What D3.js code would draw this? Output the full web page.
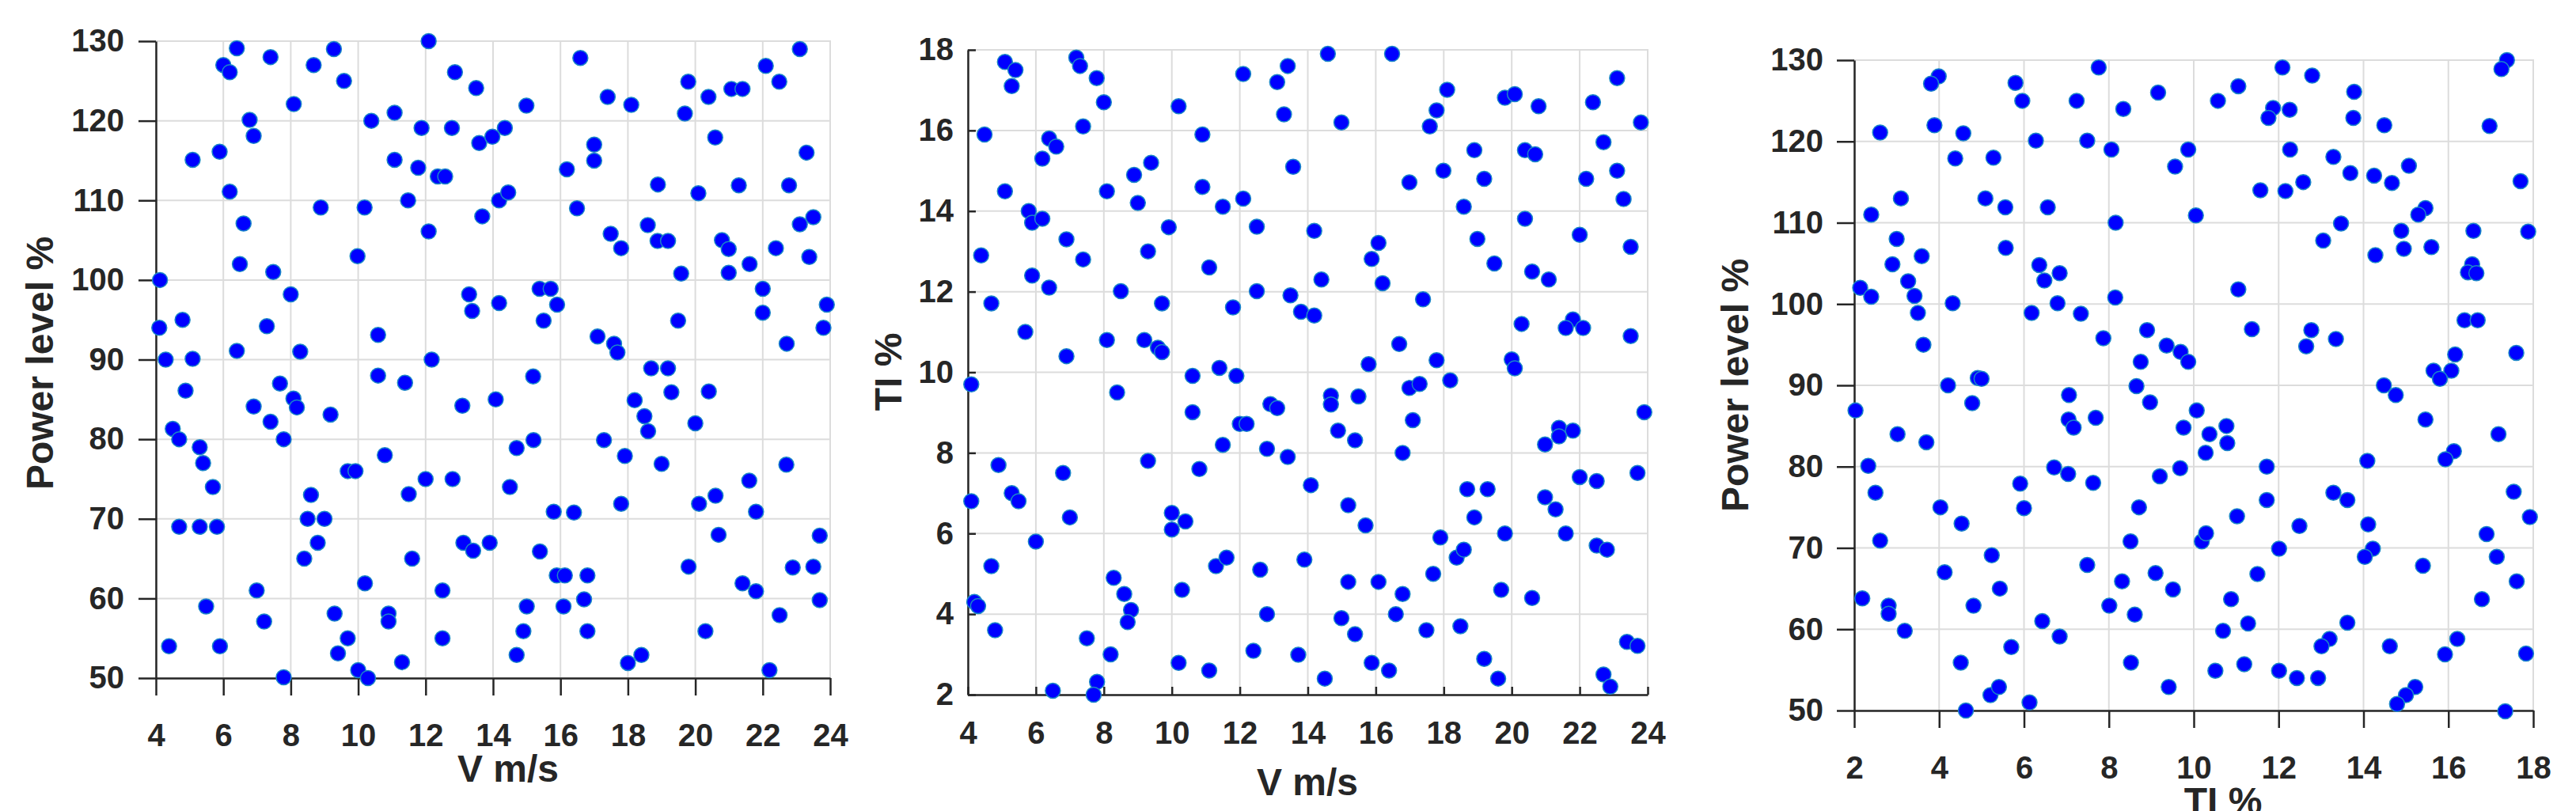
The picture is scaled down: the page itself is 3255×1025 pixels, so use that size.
<!DOCTYPE html>
<meta charset="utf-8">
<style>
body { margin: 0; background: #fff; }
svg { display: block; font-family: "Liberation Sans", Arial, Helvetica, sans-serif; }
.grid line { stroke: #dcdcdc; stroke-width: 2px; }
.frame { fill: none; stroke: #dcdcdc; stroke-width: 2px; }
.axis path, .axis line { stroke: #262626; stroke-width: 2.5px; }
.axis text { fill: #262626; font-size: 40px; font-weight: bold; font-family: "Liberation Sans", Arial, sans-serif; }
.label { fill: #262626; font-size: 48px; font-weight: bold; }
.dot { fill: #0000ff; stroke: #1a86c8; stroke-width: 1.5px; }
</style>
<svg width="3255" height="1025"></svg>
<script src="https://cdnjs.cloudflare.com/ajax/libs/d3/7.8.5/d3.min.js"></script>
<script>

// wind speed (m/s) vs power level (%)
var speedPower = [
  [6.0,127.0],[6.19,126.1],[6.4,129.1],[7.4,128.0],[8.68,127.0],[9.28,129.0],[9.58,125.0],[8.09,122.1],
  [6.78,120.1],[6.9,118.1],[5.09,115.1],[5.89,116.1],[6.19,111.1],[6.6,107.1],[6.49,102.0],[7.48,101.0],
  [12.09,130.0],[12.87,126.1],[13.5,124.1],[10.39,120.0],[11.08,121.0],[11.88,119.1],[12.78,119.1],[13.59,117.2],
  [13.98,118.0],[14.35,119.1],[11.08,115.1],[11.78,114.1],[12.36,113.0],[12.58,113.0],[11.48,110.0],[12.09,106.1],
  [13.68,108.0],[14.18,110.0],[14.45,111.0],[8.89,109.1],[10.19,109.1],[9.98,103.0],[4.12,100.0],[4.1,94.0],
  [4.79,95.0],[4.29,90.0],[5.09,90.1],[4.88,86.1],[6.4,91.1],[7.29,94.2],[8.0,98.2],[8.28,91.0],
  [7.68,87.0],[8.08,85.1],[8.18,84.0],[6.9,84.1],[7.4,82.2],[9.18,83.1],[10.59,93.1],[10.59,88.0],
  [11.39,87.1],[12.18,90.0],[13.29,98.2],[13.38,96.1],[14.18,97.1],[13.09,84.2],[14.08,85.0],[4.5,81.3],
  [7.79,80.0],[4.69,80.0],[5.3,79.0],[5.4,77.0],[5.69,74.0],[4.69,69.0],[5.3,69.0],[5.81,69.0],
  [8.6,73.0],[8.5,70.0],[9.0,70.0],[8.8,67.0],[8.4,65.0],[9.69,76.0],[9.92,76.0],[10.79,78.0],
  [11.5,73.1],[12.0,75.0],[12.8,75.0],[11.6,65.0],[13.12,67.0],[13.41,66.0],[13.9,67.0],[14.5,74.0],
  [6.99,61.0],[5.49,59.0],[7.21,57.1],[4.39,54.0],[5.9,54.0],[7.79,50.1],[9.3,58.1],[9.4,53.1],
  [9.69,55.0],[10.0,51.0],[10.29,50.0],[10.2,61.9],[10.9,58.1],[10.9,57.1],[11.3,52.0],[12.5,61.0],
  [12.5,55.0],
  [16.59,127.9],[14.99,121.9],[17.4,123.0],[18.1,122.0],[19.79,124.9],[19.69,120.9],[20.39,123.0],[21.07,124.0],
  [21.4,124.0],[22.09,126.9],[22.49,124.9],[23.1,129.0],[17.0,117.0],[17.0,115.0],[16.19,113.9],[20.59,117.9],
  [23.3,116.0],[18.89,112.0],[20.09,110.9],[21.29,111.9],[22.78,111.9],[16.49,109.0],[17.49,105.8],[17.8,104.0],
  [18.59,106.9],[18.88,104.9],[19.19,104.9],[20.79,105.0],[20.99,103.9],[21.61,102.0],[22.39,104.0],[23.1,107.0],
  [23.5,107.9],[23.38,102.9],[19.58,100.8],[20.99,100.9],[22.0,98.9],[22.0,95.9],[23.9,96.9],[23.8,94.0],
  [22.71,92.0],[15.38,98.9],[15.71,98.9],[15.9,96.9],[15.5,94.9],[19.49,94.9],[17.1,92.9],[17.59,92.0],
  [17.69,90.9],[15.19,87.9],[18.69,88.9],[19.19,88.9],[19.29,85.9],[20.4,86.0],[18.2,84.9],[18.49,82.9],
  [18.6,81.0],[20.0,82.0],
  [15.2,79.9],[14.7,78.9],[17.29,79.9],[17.91,77.9],[19.0,76.9],[22.7,76.8],[21.6,74.8],[20.6,72.9],
  [20.11,71.9],[21.8,70.9],[17.8,71.9],[15.8,70.9],[16.4,70.8],[15.39,65.9],[20.69,68.0],[23.69,67.9],
  [19.8,64.0],[22.89,63.9],[23.5,64.0],[15.89,62.9],[16.13,62.9],[16.8,62.9],[21.4,61.9],[21.8,60.9],
  [16.7,59.9],[23.69,59.8],[15.0,59.0],[16.09,59.0],[22.5,57.9],[14.9,55.9],[16.8,55.9],[20.3,55.9],
  [14.7,52.9],[18.0,51.9],[18.4,52.9],[22.2,51.0]
];

// wind speed (m/s) vs turbulence intensity (%)
var speedTI = [
  [5.09,17.7],[5.4,17.5],[5.29,17.1],[7.19,17.81],[7.3,17.6],[7.79,17.3],[8.0,16.7],[7.39,16.1],
  [4.49,15.9],[6.39,15.8],[6.6,15.6],[6.19,15.3],[5.09,14.49],[5.79,14.0],[5.89,13.71],[6.19,13.81],
  [6.9,13.3],[7.39,12.8],[4.39,12.9],[5.89,12.4],[6.39,12.1],[4.69,11.71],[5.69,11.0],[6.9,10.4],
  [4.1,9.7],[8.09,14.49],[8.89,14.9],[9.39,15.2],[9.0,14.2],[9.91,13.6],[9.3,13.0],[8.5,12.01],
  [9.71,11.71],[8.09,10.8],[9.19,10.8],[9.59,10.61],[9.71,10.5],[8.39,9.5],[10.2,16.6],[10.9,15.9],
  [10.9,14.6],[11.5,14.11],[12.1,14.31],[12.5,13.61],[11.1,12.6],[12.5,12.01],[11.8,11.61],[10.61,9.91],
  [11.4,10.11],[11.9,9.91],[10.61,9.01],[12.0,8.72],[12.2,8.72],[12.9,9.21],[13.1,9.11],[12.1,17.4],
  [13.1,17.2],[13.41,17.6],[13.3,16.4],[13.57,15.1],[13.49,11.91],[13.8,11.5],
  [14.59,17.9],[16.48,17.9],[14.99,16.2],[18.1,17.01],[17.79,16.5],[17.59,16.1],[19.8,16.81],[20.09,16.9],
  [20.79,16.6],[22.39,16.7],[23.1,17.3],[23.8,16.2],[18.9,15.51],[20.39,15.51],[20.69,15.41],[22.7,15.71],
  [17.99,15.0],[16.99,14.71],[19.19,14.8],[22.19,14.8],[23.1,15.0],[23.29,14.3],[18.59,14.11],[20.39,13.81],
  [22.0,13.41],[14.19,13.51],[16.08,13.21],[15.88,12.81],[18.99,13.31],[19.49,12.7],[20.6,12.5],[21.09,12.3],
  [23.5,13.11],[14.4,12.3],[16.2,12.21],[14.19,11.41],[17.39,11.81],[20.29,11.2],[21.8,11.31],[21.59,11.1],
  [22.1,11.1],[23.5,10.9],[16.69,10.7],[15.79,10.2],[17.79,10.3],[20.0,10.32],[20.09,10.1],[16.99,9.61],
  [17.29,9.71],[18.19,9.8],[14.68,9.42],[14.68,9.2],[15.49,9.4],[17.09,8.81],[14.89,8.55],[23.9,9.01],
  [21.39,8.62],[21.8,8.55],
  [11.5,8.2],[12.8,8.1],[13.41,7.9],[9.3,7.8],[10.81,7.6],[4.9,7.7],[6.8,7.5],[4.1,6.8],
  [5.29,7.0],[5.49,6.8],[7.0,6.4],[6.0,5.8],[10.0,6.51],[10.4,6.3],[10.0,6.1],[4.69,5.19],
  [11.3,5.19],[11.61,5.4],[12.6,5.1],[13.9,5.35],[8.29,4.9],[8.6,4.5],[8.8,4.1],[8.7,3.8],
  [10.3,4.6],[4.19,4.3],[4.3,4.2],[4.8,3.6],[12.8,4.0],[7.5,3.4],[8.2,3.0],[10.2,2.79],
  [11.1,2.6],[12.4,3.09],[13.72,2.99],[6.5,2.1],[7.8,2.32],[7.7,2.0],
  [15.39,8.31],[16.79,8.0],[14.09,7.2],[15.19,6.7],[15.7,6.2],[17.9,5.9],[18.69,7.1],[19.29,7.1],
  [18.9,6.4],[19.8,6.0],[18.38,5.4],[18.59,5.6],[20.98,6.9],[21.29,6.6],[21.59,6.0],[20.98,8.21],
  [21.39,8.41],[22.0,7.4],[22.5,7.3],[23.7,7.5],[22.5,5.7],[22.8,5.6],[17.69,5.0],[15.19,4.8],
  [16.08,4.8],[16.79,4.5],[19.69,4.6],[20.6,4.4],[14.99,3.9],[16.59,4.0],[15.39,3.5],[17.49,3.6],
  [18.49,3.7],[15.88,2.79],[16.39,2.6],[14.5,2.4],[19.19,2.89],[19.6,2.4],[23.39,3.31],[23.7,3.21],
  [22.7,2.5],[22.9,2.2]
];

// turbulence intensity (%) vs power level (%)
var tiPower = [
  [3.99,128.0],[3.81,127.1],[3.89,122.0],[2.61,121.1],[4.57,121.0],[4.38,117.9],[5.28,118.0],[5.8,127.2],
  [5.96,125.0],[6.28,120.1],[7.76,129.1],[7.24,125.0],[8.34,124.0],[7.49,120.1],[8.06,119.0],[3.1,113.0],
  [2.4,111.0],[3.0,108.0],[5.09,113.0],[5.56,111.9],[6.56,111.9],[5.57,106.9],[8.16,110.0],[3.59,105.9],
  [2.9,104.9],[3.27,102.8],[2.14,102.0],[2.4,100.9],[3.42,101.0],[3.5,98.9],[4.32,100.1],[3.63,95.0],
  [6.36,104.8],[6.48,102.9],[6.84,103.8],[6.79,100.1],[6.18,98.9],[7.34,98.8],[7.87,95.8],[8.15,100.8],
  [8.9,96.8],[8.75,92.9],[8.65,89.9],[4.21,90.0],[4.91,90.9],[5.0,90.8],[4.78,87.8],[2.03,86.9],
  [7.06,88.8],[7.05,85.8],[7.17,84.8],[7.69,86.0],[3.02,84.0],[3.7,83.0],
  [2.33,80.1],[2.5,76.8],[2.61,70.9],[4.03,75.0],[4.53,73.0],[5.91,77.9],[6.0,74.9],[6.71,79.9],
  [7.04,79.1],[7.63,78.0],[8.71,75.0],[8.51,70.8],[5.24,69.1],[4.13,67.0],[5.43,65.0],[4.81,62.9],
  [7.49,67.9],[8.31,65.9],[8.01,62.9],[8.61,61.8],[2.19,63.8],[2.81,62.9],[2.81,61.9],[3.19,59.8],
  [6.43,61.0],[6.84,59.1],[5.7,57.8],[4.51,55.9],[8.52,55.9],[5.21,51.9],[5.41,52.9],[6.13,51.0],
  [4.63,50.0],
  [9.16,126.0],[10.57,125.0],[11.05,126.8],[12.09,129.1],[12.79,128.1],[13.78,126.1],[11.87,124.1],[11.76,122.9],
  [12.26,123.9],[13.76,122.9],[14.49,122.0],[17.38,130.0],[17.25,128.9],[16.97,121.9],[9.87,119.0],[9.56,116.9],
  [12.27,119.0],[13.29,118.1],[13.69,116.1],[14.25,115.8],[14.67,114.9],[15.07,117.0],[11.57,114.0],[12.16,113.9],
  [12.58,115.0],[17.7,115.1],[10.05,110.9],[15.46,111.8],[15.29,111.0],[13.47,109.9],[13.05,107.8],[14.89,109.0],
  [16.59,109.0],[17.88,108.9],[14.28,106.0],[14.95,106.8],[15.6,107.0],[16.56,104.9],[16.46,103.9],[16.66,103.8],
  [11.05,101.8],[9.36,94.9],[9.69,94.1],[9.87,92.9],[11.37,96.9],[12.77,96.8],[12.65,94.8],[13.35,95.7],
  [16.38,98.0],[16.69,98.0],[17.6,94.0],[16.16,93.8],[16.07,91.8],[15.65,91.8],[15.8,90.8],[14.48,90.0],
  [14.76,88.8],[15.46,85.8],[17.18,84.0],[8.97,87.9],[10.07,86.9],[9.76,84.8],[10.37,84.0],[10.77,85.0],
  [10.79,82.9],
  [10.28,81.7],[16.13,81.9],[15.93,80.9],[14.09,80.7],[11.72,80.0],[9.68,79.8],[9.2,78.8],[13.29,76.8],
  [13.62,75.9],[17.54,76.9],[11.02,73.9],[11.72,75.9],[12.49,72.7],[14.11,72.9],[17.92,73.8],[10.19,70.8],
  [10.29,71.8],[12.01,69.9],[14.22,69.9],[14.03,68.9],[16.9,71.7],[17.14,68.9],[15.4,67.8],[9.1,66.9],
  [9.51,64.9],[11.5,66.8],[10.88,63.7],[17.61,65.9],[16.79,63.7],[11.28,60.7],[10.69,59.8],[13.62,60.8],
  [13.2,58.8],[13.01,57.9],[14.62,57.9],[16.21,58.8],[15.92,56.9],[17.83,57.0],[10.51,54.9],[11.19,55.7],
  [12.01,54.9],[12.43,54.0],[12.93,54.0],[9.41,52.9],[15.22,52.9],[15.0,51.9],[14.79,50.8],[17.34,49.9]
];

var speedTicks = [4, 6, 8, 10, 12, 14, 16, 18, 20, 22, 24];
var powerTicks = [50, 60, 70, 80, 90, 100, 110, 120, 130];
var tiTicks = [2, 4, 6, 8, 10, 12, 14, 16, 18];

var svg = d3.select("svg");

var panels = [
  {points: speedPower, xDomain: [4, 24], yDomain: [50, 130], xTicks: speedTicks, yTicks: powerTicks,
   xLabel: "V m/s", yLabel: "Power level %",
   left: 197, right: 1049, top: 52, bottom: 857, tick: 22, xPad: 36, yPad: 18,
   xLabelX: 642, xLabelY: 988, yLabelX: 50, yLabelY: 459},
  {points: speedTI, xDomain: [4, 24], yDomain: [2, 18], xTicks: speedTicks, yTicks: tiTicks,
   xLabel: "V m/s", yLabel: "TI %",
   left: 1223, right: 2082, top: 63, bottom: 878, tick: -10, xPad: 34, yPad: 18,
   xLabelX: 1652, xLabelY: 1005, yLabelX: 1122, yLabelY: 470},
  {points: tiPower, xDomain: [2, 18], yDomain: [50, 130], xTicks: tiTicks, yTicks: powerTicks,
   xLabel: "TI %", yLabel: "Power level %",
   left: 2343, right: 3201, top: 76, bottom: 898, tick: 22, xPad: 36, yPad: 17,
   xLabelX: 2809, xLabelY: 1029, yLabelX: 2192, yLabelY: 487}
];

panels.forEach(function(p) {
  var x = d3.scaleLinear().domain(p.xDomain).range([p.left, p.right]),
      y = d3.scaleLinear().domain(p.yDomain).range([p.bottom, p.top]);

  var g = svg.append("g");

  g.append("g").attr("class", "grid")
    .selectAll("line.v").data(p.xTicks).enter().append("line")
      .attr("x1", function(d) { return x(d); }).attr("x2", function(d) { return x(d); })
      .attr("y1", p.top).attr("y2", p.bottom);
  g.append("g").attr("class", "grid")
    .selectAll("line.h").data(p.yTicks).enter().append("line")
      .attr("x1", p.left).attr("x2", p.right)
      .attr("y1", function(d) { return y(d); }).attr("y2", function(d) { return y(d); });

  g.append("rect").attr("class", "frame")
      .attr("x", p.left).attr("y", p.top)
      .attr("width", p.right - p.left).attr("height", p.bottom - p.top);

  g.append("g")
      .attr("class", "axis")
      .attr("transform", "translate(0," + p.bottom + ")")
      .call(d3.axisBottom(x).tickValues(p.xTicks).tickSizeInner(p.tick).tickSizeOuter(0).tickPadding(p.xPad));
  g.append("g")
      .attr("class", "axis")
      .attr("transform", "translate(" + p.left + ",0)")
      .call(d3.axisLeft(y).tickValues(p.yTicks).tickSizeInner(p.tick).tickSizeOuter(0).tickPadding(p.yPad));

  g.selectAll(".dot")
    .data(p.points)
    .enter().append("circle")
      .attr("class", "dot")
      .attr("r", 9.5)
      .attr("cx", function(d) { return x(d[0]); })
      .attr("cy", function(d) { return y(d[1]); });

  g.append("text")
      .attr("class", "label")
      .attr("x", p.xLabelX)
      .attr("y", p.xLabelY)
      .attr("text-anchor", "middle")
      .text(p.xLabel);
  g.append("text")
      .attr("class", "label")
      .attr("transform", "translate(" + p.yLabelX + "," + p.yLabelY + ") rotate(-90)")
      .attr("dy", "0.35em")
      .attr("text-anchor", "middle")
      .text(p.yLabel);
});

</script>
